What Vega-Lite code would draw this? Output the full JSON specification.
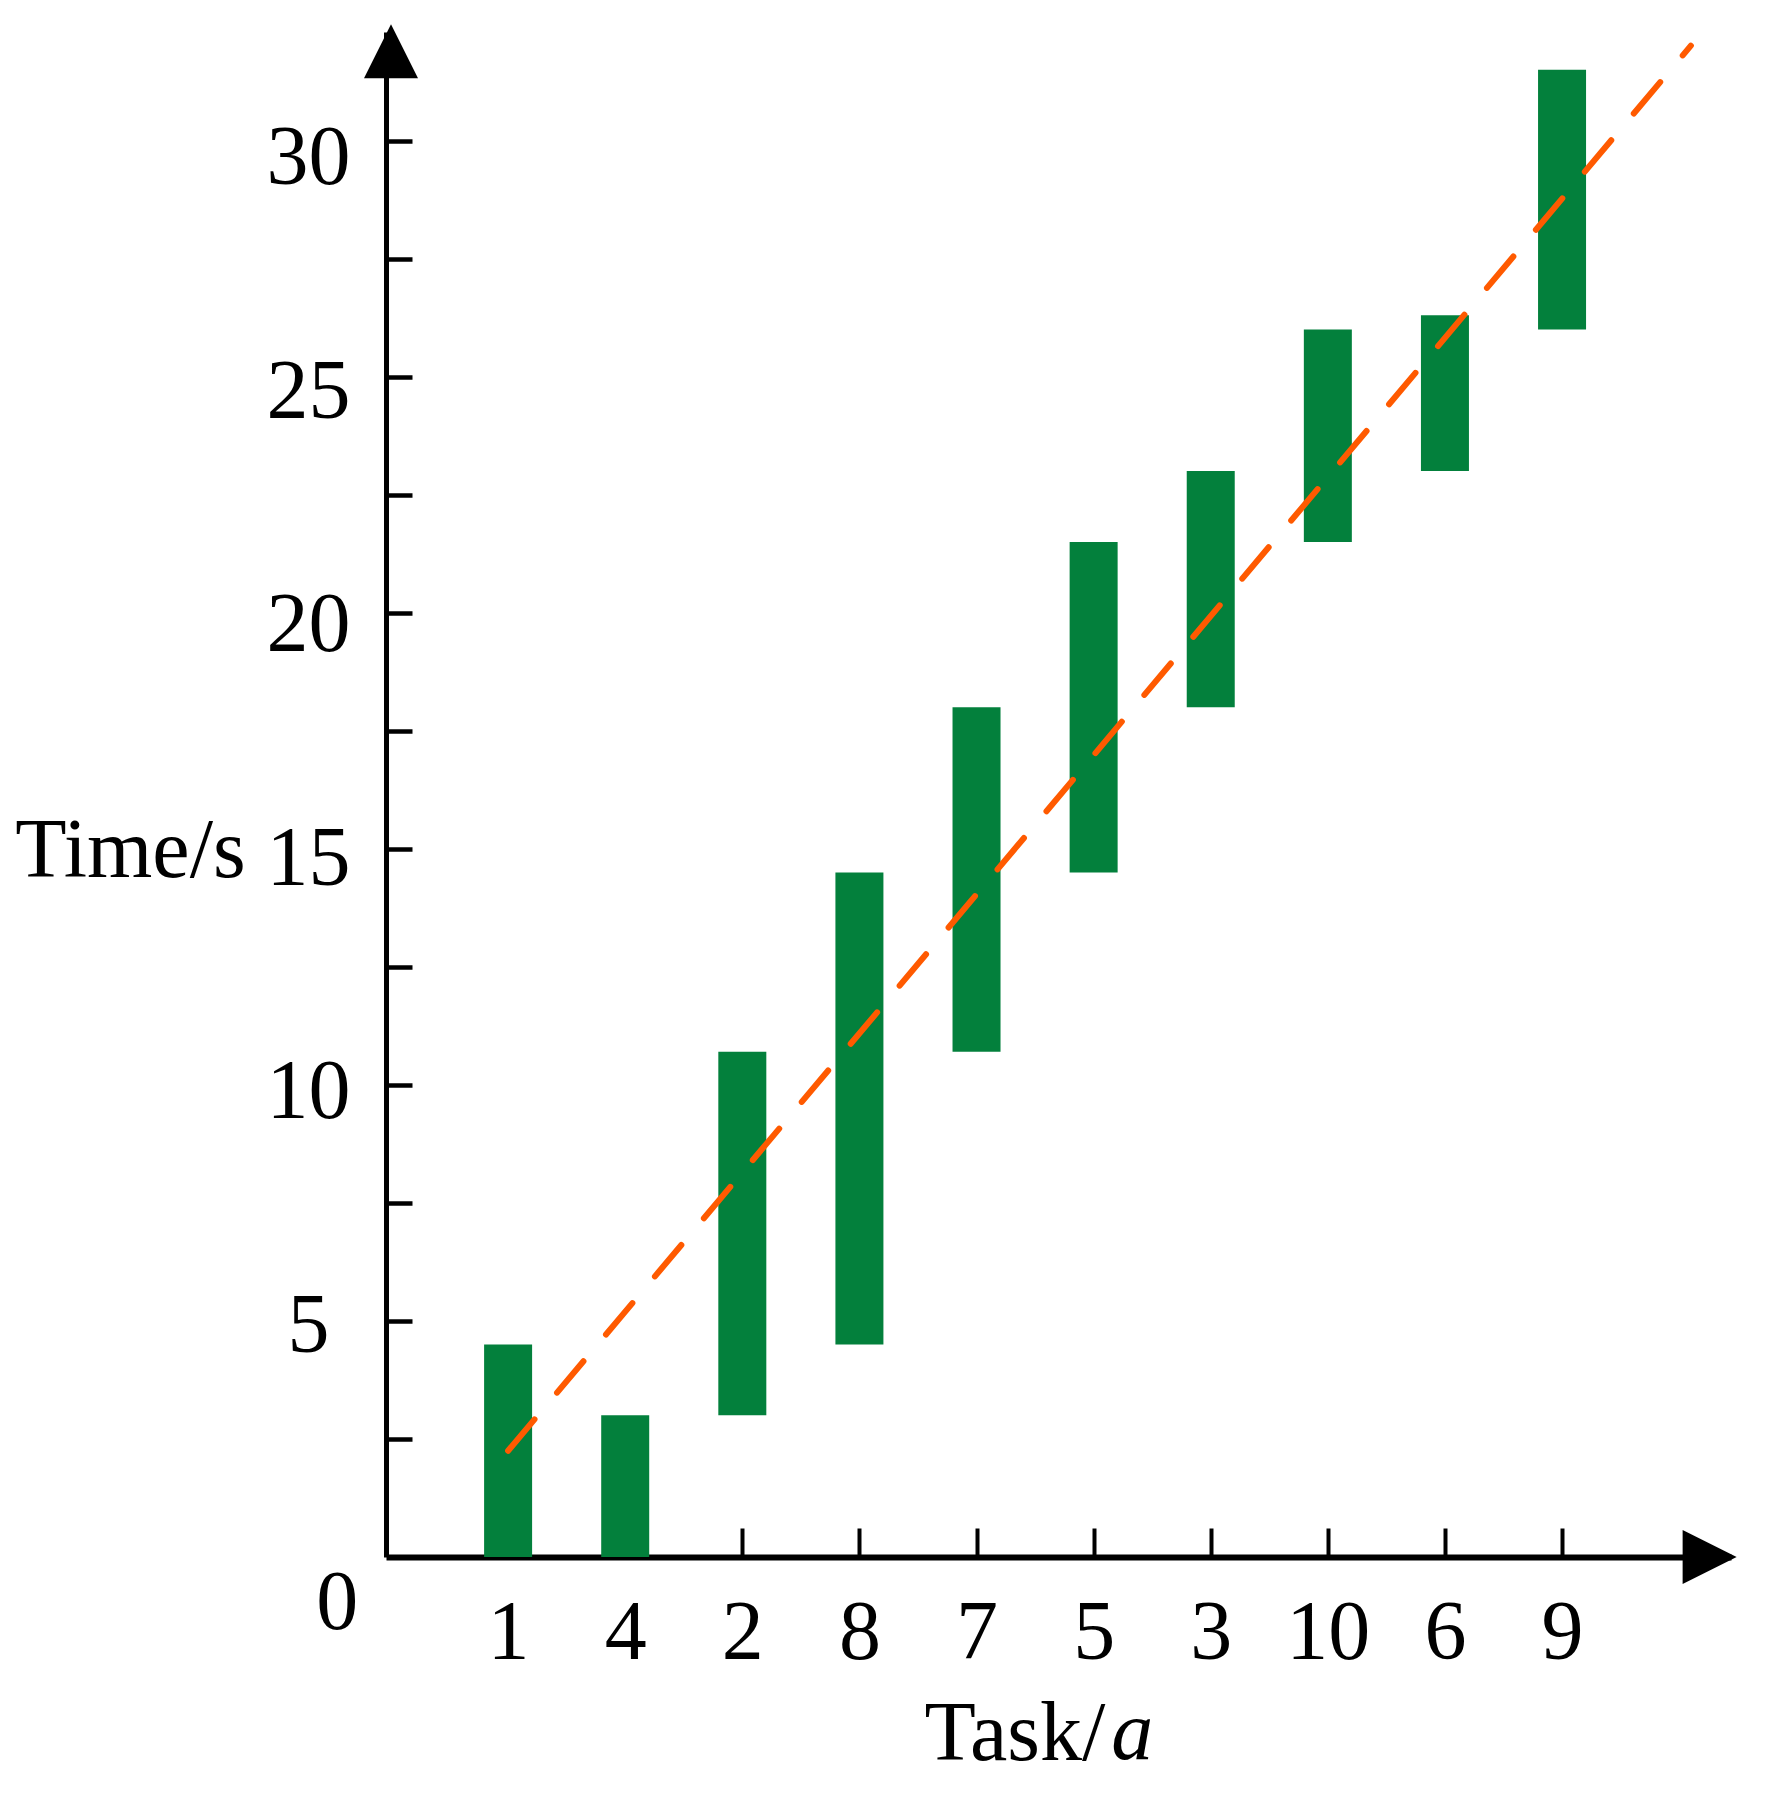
{
  "$schema": "https://vega.github.io/schema/vega-lite/v6.json",
  "width": 1345,
  "height": 1525,
  "autosize": {"type": "none"},
  "padding": {"left": 386, "top": 32, "right": 37, "bottom": 243},
  "background": "white",
  "config": {"view": {"stroke": null}, "font": "Liberation Serif"},
  "layer": [
    {
      "data": {"values": [
        {"pos": 1, "task": "1", "t": 0, "t2": 4.5},
        {"pos": 2, "task": "4", "t": 0, "t2": 3.0},
        {"pos": 3, "task": "2", "t": 3.0, "t2": 10.7},
        {"pos": 4, "task": "8", "t": 4.5, "t2": 14.5},
        {"pos": 5, "task": "7", "t": 10.7, "t2": 18.0},
        {"pos": 6, "task": "5", "t": 14.5, "t2": 21.5},
        {"pos": 7, "task": "3", "t": 18.0, "t2": 23.0},
        {"pos": 8, "task": "10", "t": 21.5, "t2": 26.0},
        {"pos": 9, "task": "6", "t": 23.0, "t2": 26.3},
        {"pos": 10, "task": "9", "t": 26.0, "t2": 31.5}
      ]},
      "mark": {"type": "bar", "width": 48, "color": "#03803C"},
      "encoding": {
        "x": {
          "field": "pos", "type": "quantitative",
          "scale": {"domain": [0, 11.4], "nice": false, "zero": false},
          "axis": {
            "values": [1, 2, 3, 4, 5, 6, 7, 8, 9, 10],
            "labelExpr": "['','1','4','2','8','7','5','3','10','6','9'][datum.value]",
            "title": "Task/",
            "titleX": 538, "titleY": 202,
            "titleAlign": "left", "titleBaseline": "alphabetic",
            "titleFont": "Liberation Serif", "titleFontSize": 84, "titleFontWeight": "normal", "titleColor": "black",
            "labelFont": "Liberation Serif", "labelFontSize": 84, "labelColor": "black",
            "labelBaseline": "alphabetic", "labelAlign": "center", "labelPadding": 130,
            "labelOverlap": false, "labelFlush": false, "labelBound": false,
            "tickSize": -29, "tickWidth": 4, "tickColor": "black",
            "domainColor": "black", "domainWidth": 6, "grid": false
          }
        },
        "y": {
          "field": "t", "type": "quantitative",
          "scale": {"domain": [0, 32.3], "nice": false, "zero": false},
          "axis": {
            "values": [2.5, 5, 7.5, 10, 12.5, 15, 17.5, 20, 22.5, 25, 27.5, 30],
            "labelExpr": "datum.value % 5 === 0 ? datum.label : ''",
            "title": "Time/s",
            "titleAngle": 0, "titleX": -256, "titleY": 844,
            "titleAlign": "center", "titleBaseline": "alphabetic",
            "titleFont": "Liberation Serif", "titleFontSize": 84, "titleFontWeight": "normal", "titleColor": "black",
            "labelFont": "Liberation Serif", "labelFontSize": 84, "labelColor": "black",
            "labelAlign": "center", "labelBaseline": "middle", "labelPadding": 104,
            "labelOffset": {"expr": "3 + datum.value * 0.5"},
            "labelOverlap": false, "labelFlush": false, "labelBound": false,
            "tickSize": -26, "tickWidth": 4.5, "tickColor": "black",
            "domainColor": "black", "domainWidth": 5, "grid": false
          }
        },
        "y2": {"field": "t2"}
      }
    },
    {
      "data": {"values": [
        {"pos": 1, "t": 2.25},
        {"pos": 11.1, "t": 32.01}
      ]},
      "mark": {"type": "line", "color": "#FF5A00", "strokeWidth": 6, "strokeDash": [41, 35], "strokeCap": "round"},
      "encoding": {
        "x": {"field": "pos", "type": "quantitative"},
        "y": {"field": "t", "type": "quantitative"}
      }
    },
    {
      "data": {"values": [{"pos": 0, "t": 31.89}]},
      "mark": {"type": "point", "shape": "M-1,1L0,-1L1,1Z", "size": 2916, "filled": true, "color": "black", "opacity": 1},
      "encoding": {
        "x": {"field": "pos", "type": "quantitative"},
        "y": {"field": "t", "type": "quantitative"}
      }
    },
    {
      "data": {"values": [{"pos": 11.26, "t": 0}]},
      "mark": {"type": "point", "shape": "M-1,-1L1,0L-1,1Z", "size": 2916, "filled": true, "color": "black", "opacity": 1},
      "encoding": {
        "x": {"field": "pos", "type": "quantitative"},
        "y": {"field": "t", "type": "quantitative"}
      }
    },
    {
      "data": {"values": [{"pos": -0.458, "t": -1.525, "label": "0"}]},
      "mark": {"type": "text", "font": "Liberation Serif", "fontSize": 84, "align": "center", "baseline": "alphabetic", "color": "black"},
      "encoding": {
        "x": {"field": "pos", "type": "quantitative"},
        "y": {"field": "t", "type": "quantitative"},
        "text": {"field": "label"}
      }
    },
    {
      "data": {"values": [{"pos": 6.15, "t": -4.28, "label": "a"}]},
      "mark": {"type": "text", "font": "Liberation Serif", "fontSize": 84, "fontStyle": "italic", "align": "left", "baseline": "alphabetic", "color": "black"},
      "encoding": {
        "x": {"field": "pos", "type": "quantitative"},
        "y": {"field": "t", "type": "quantitative"},
        "text": {"field": "label"}
      }
    }
  ]
}
